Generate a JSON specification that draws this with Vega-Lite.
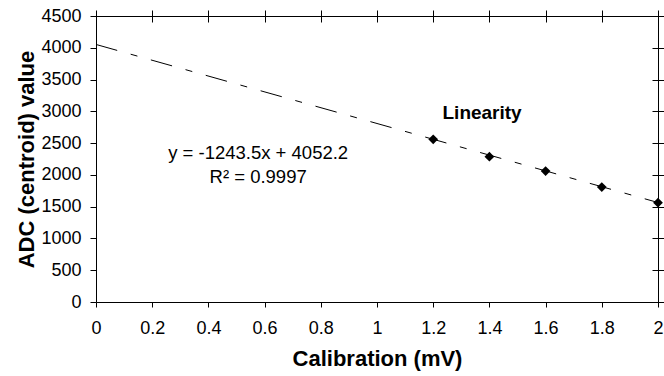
{
  "$schema": "https://vega.github.io/schema/vega-lite/v6.json",
  "autosize": {"type": "none"},
  "width": 562,
  "height": 286,
  "padding": {"left": 96, "top": 16, "right": 6, "bottom": 74},
  "background": "white",
  "config": {
    "view": {"stroke": "#000000", "strokeWidth": 1},
    "font": "Liberation Sans",
    "axis": {"grid": false, "domain": false, "tickColor": "#000000", "labelColor": "#000000", "titleColor": "#000000", "labelFont": "Liberation Sans", "titleFont": "Liberation Sans"}
  },
  "datasets": {
    "points": [
      {"x": 1.2, "y": 2560},
      {"x": 1.4, "y": 2286},
      {"x": 1.6, "y": 2061},
      {"x": 1.8, "y": 1809},
      {"x": 2.0, "y": 1563}
    ],
    "trend": [
      {"x": 0, "y": 4052.2},
      {"x": 2, "y": 1565.2}
    ],
    "labels": [
      {"x": 0.577, "y": 2349, "text": "y = -1243.5x + 4052.2"},
      {"x": 0.577, "y": 1971, "text": "R² = 0.9997"}
    ],
    "series": [
      {"x": 1.374, "y": 2974, "text": "Linearity"}
    ]
  },
  "layer": [
    {
      "data": {"name": "trend"},
      "mark": {"type": "line", "color": "#000000", "strokeWidth": 1, "strokeDash": [22, 14, 7, 14]},
      "encoding": {
        "x": {"field": "x", "type": "quantitative", "scale": {"domain": [0, 2], "nice": false},
          "axis": {"orient": "bottom", "values": [0, 0.2, 0.4, 0.6, 0.8, 1, 1.2, 1.4, 1.6, 1.8, 2], "format": "~g", "tickSize": 5, "labelFontSize": 18, "labelPadding": 12, "title": "Calibration (mV)", "titleFontSize": 22, "titleFontWeight": "bold", "titlePadding": 11, "labelFlush": false}},
        "y": {"field": "y", "type": "quantitative", "scale": {"domain": [0, 4500], "nice": false},
          "axis": {"orient": "left", "values": [0, 500, 1000, 1500, 2000, 2500, 3000, 3500, 4000, 4500], "format": "d", "tickSize": 6, "labelFontSize": 18, "labelPadding": 9, "title": "ADC (centroid) value", "titleFontSize": 22, "titleFontWeight": "bold", "titlePadding": 2}}
      }
    },
    {
      "data": {"name": "points"},
      "mark": {"type": "point", "shape": "diamond", "filled": true, "color": "#000000", "size": 95, "opacity": 1},
      "encoding": {
        "x": {"field": "x", "type": "quantitative", "scale": {"domain": [0, 2], "nice": false},
          "axis": {"orient": "top", "values": [0, 0.2, 0.4, 0.6, 0.8, 1, 1.2, 1.4, 1.6, 1.8, 2], "tickSize": 12, "offset": -6, "labels": false, "title": null}},
        "y": {"field": "y", "type": "quantitative", "scale": {"domain": [0, 4500], "nice": false},
          "axis": {"orient": "right", "values": [0, 500, 1000, 1500, 2000, 2500, 3000, 3500, 4000, 4500], "tickSize": 12, "offset": -6, "labels": false, "title": null}}
      }
    },
    {
      "data": {"name": "labels"},
      "mark": {"type": "text", "fontSize": 18.5, "color": "#000000", "align": "center", "baseline": "middle"},
      "encoding": {
        "x": {"field": "x", "type": "quantitative", "axis": null},
        "y": {"field": "y", "type": "quantitative", "axis": null},
        "text": {"field": "text"}
      }
    },
    {
      "data": {"name": "series"},
      "mark": {"type": "text", "fontSize": 19, "fontWeight": "bold", "color": "#000000", "align": "center", "baseline": "middle"},
      "encoding": {
        "x": {"field": "x", "type": "quantitative", "axis": null},
        "y": {"field": "y", "type": "quantitative", "axis": null},
        "text": {"field": "text"}
      }
    }
  ],
  "resolve": {"axis": {"x": "independent", "y": "independent"}}
}
